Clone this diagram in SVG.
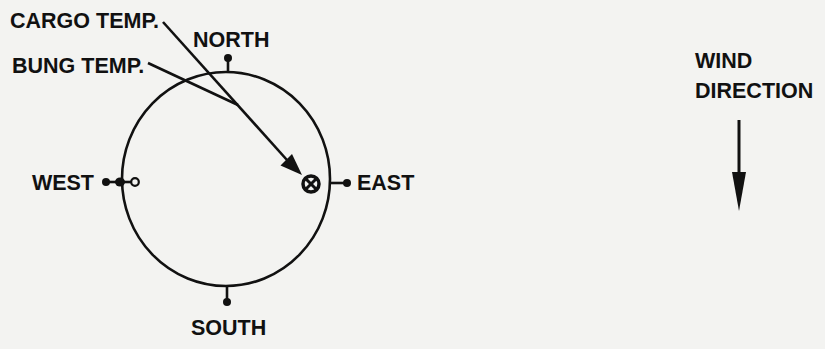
<svg xmlns="http://www.w3.org/2000/svg" width="825" height="349" viewBox="0 0 825 349">
<defs>
<style>
.t{font-family:"Liberation Sans",Arial,sans-serif;font-weight:bold;font-size:21.5px;fill:#111}
.l{stroke:#111;stroke-width:2.6;fill:none}
.d{fill:#111}
</style>
</defs>
<rect width="825" height="349" fill="#f3f3f1"/>
<g id="compass">
<ellipse cx="226" cy="179" rx="104" ry="107" class="l"/>
</g>
<g id="north">
<line x1="228" y1="58" x2="228" y2="72" class="l"/>
<circle cx="228" cy="58" r="4" class="d"/>
<text x="193" y="47" class="t">NORTH</text>
</g>
<g id="south">
<line x1="227" y1="286" x2="227" y2="302" class="l"/>
<circle cx="227" cy="302" r="4" class="d"/>
<text x="191" y="335" class="t">SOUTH</text>
</g>
<g id="east">
<line x1="330" y1="183" x2="347" y2="183" class="l"/>
<circle cx="347" cy="183" r="4" class="d"/>
<text x="357" y="190" class="t">EAST</text>
</g>
<g id="west">
<line x1="106" y1="182" x2="131" y2="182" class="l"/>
<circle cx="106" cy="182" r="4" class="d"/>
<ellipse cx="120" cy="182" rx="5" ry="4.5" class="d"/>
<circle cx="135" cy="182" r="3.8" fill="#f3f3f1" stroke="#111" stroke-width="2.2"/>
<text x="94" y="190" class="t" text-anchor="end">WEST</text>
</g>
<g id="sensor">
<circle cx="311" cy="184" r="8" fill="none" stroke="#111" stroke-width="3.5"/>
<line x1="306" y1="179" x2="316" y2="189" stroke="#111" stroke-width="3"/>
<line x1="316" y1="179" x2="306" y2="189" stroke="#111" stroke-width="3"/>
</g>
<g id="cargo-label">
<text x="10" y="28" class="t">CARGO TEMP.</text>
</g>
<g id="bung-label">
<text x="12" y="73" class="t">BUNG TEMP.</text>
</g>
<g id="wind">
<text x="695" y="68" class="t">WIND</text>
<text x="695" y="98" class="t">DIRECTION</text>
</g>
<g id="connectors">
<line x1="163" y1="22" x2="287" y2="160" class="l"/>
<path d="M280.5,165.5 L302,175 L292,154 Z" class="d"/>
<polyline points="148,63 238,105" class="l"/>
<line x1="739" y1="120" x2="739" y2="175" stroke="#111" stroke-width="3"/>
<path d="M732,172 L746,172 L739,211 Z" class="d"/>
</g>
</svg>
